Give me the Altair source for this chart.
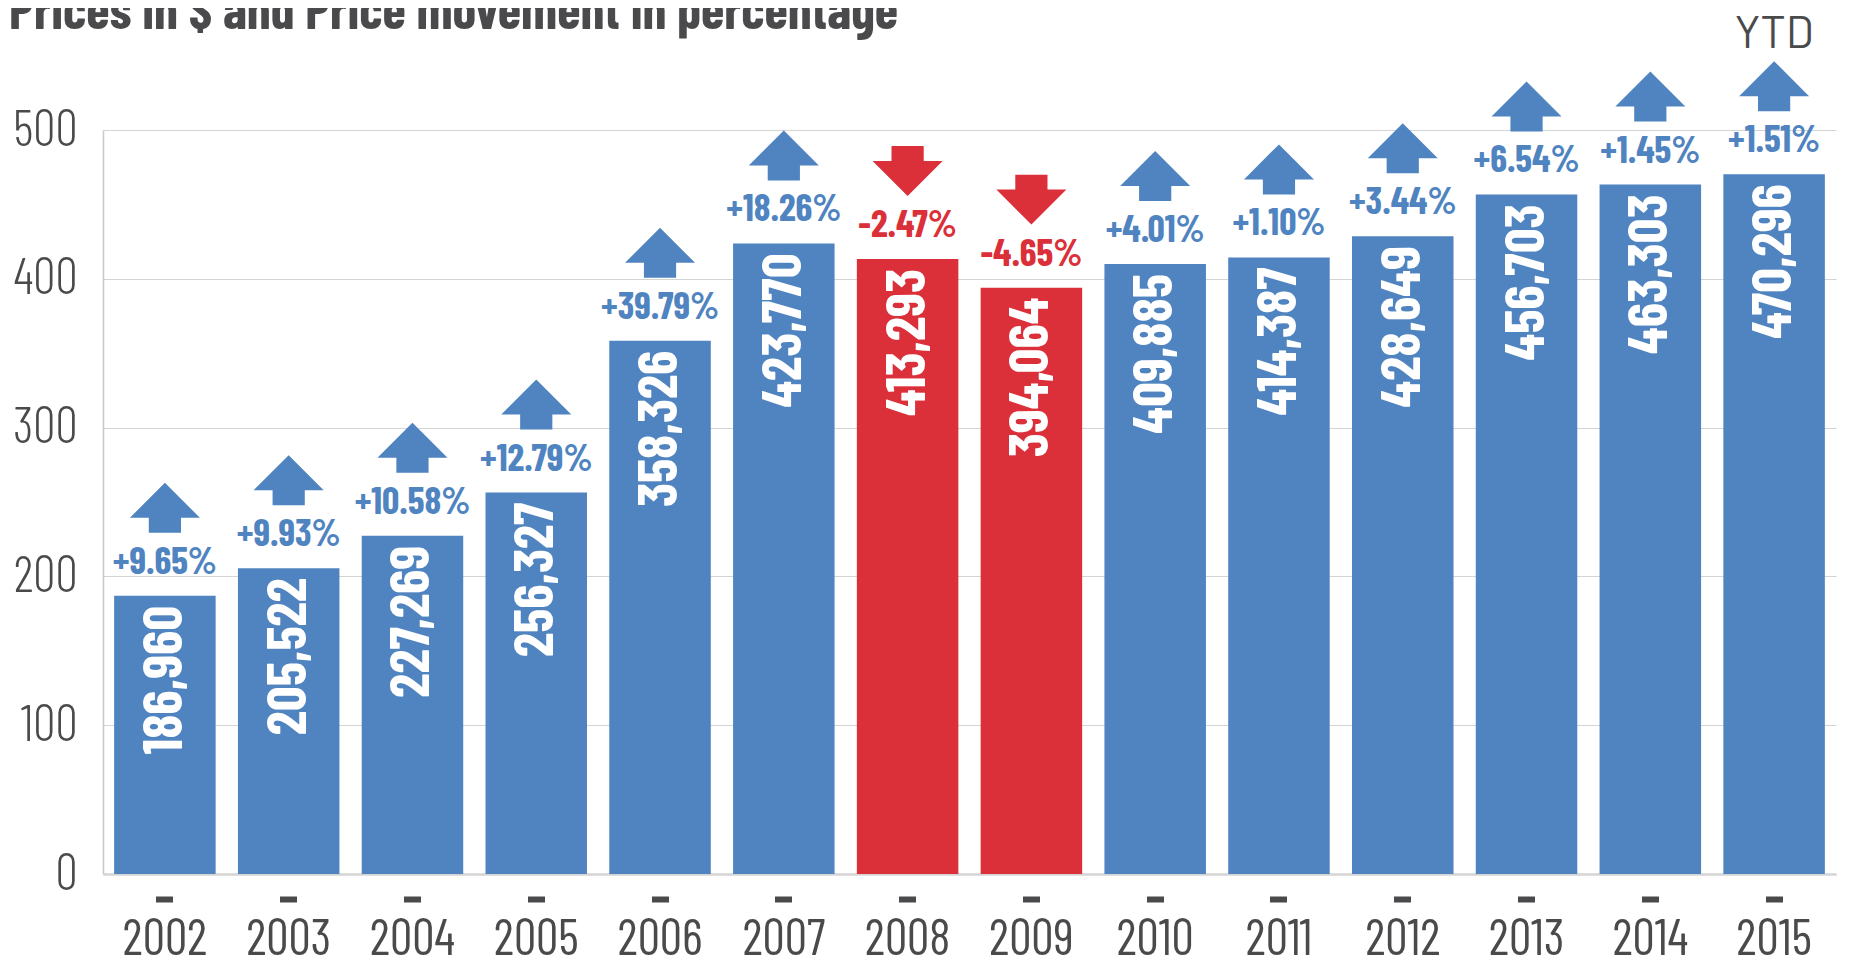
import altair as alt
import pandas as pd

years = [str(y) for y in range(2002, 2016)]
prices = [186960, 205522, 227269, 256327, 358326, 423770, 413293,
          394064, 409885, 414387, 428649, 456703, 463303, 470296]
changes = [9.65, 9.93, 10.58, 12.79, 39.79, 18.26, -2.47,
           -4.65, 4.01, 1.10, 3.44, 6.54, 1.45, 1.51]
y_ticks = [0, 100, 200, 300, 400, 500]
title_text = "Prices in $ and Price movement in percentage"
ytd_text = "YTD"

BLUE = "#4f84c1"
RED = "#db2f39"
GRAY = "#4a4a4c"
FONT = "Barlow Condensed, Fira Sans Extra Condensed, DejaVu Sans Condensed, sans-serif"
FONT_W = "Barlow, DejaVu Sans, sans-serif"

UP = "M-1,0.286 L0,-0.714 L1,0.286 L0.46,0.286 L0.46,0.714 L-0.46,0.714 L-0.46,0.286 Z"
DOWN = "M-1,-0.286 L0,0.714 L1,-0.286 L0.46,-0.286 L0.46,-0.714 L-0.46,-0.714 L-0.46,-0.286 Z"

df = pd.DataFrame({"year": years, "price": prices, "change": changes})
df["k"] = df["price"] / 1000
df["dir"] = ["up" if c > 0 else "down" for c in changes]
df["pct"] = [("+" if c > 0 else "") + f"{c:.2f}%" for c in changes]

x = alt.X(
    "year:N", sort=years,
    scale=alt.Scale(paddingInner=0.18, paddingOuter=0.09),
    axis=alt.Axis(title=None, labelAngle=0, domain=False, offset=22,
                  tickSize=6, tickWidth=17, tickColor=GRAY,
                  labelFont=FONT, labelFontSize=50, labelFontWeight=400,
                  labelColor=GRAY, labelPadding=12, grid=False),
)
y = alt.Y(
    "k:Q", scale=alt.Scale(domain=[0, 500], nice=False),
    axis=alt.Axis(title=None, values=y_ticks, ticks=False,
                  domainColor="#c8c8c8", domainWidth=1.5,
                  gridColor="#d4d4d4",
                  gridWidth={"condition": {"test": "datum.value === 0", "value": 2.5}, "value": 1},
                  labelFont=FONT, labelFontSize=50, labelFontWeight=300,
                  labelColor=GRAY, labelPadding=26),
)
color = alt.Color("dir:N", scale=alt.Scale(domain=["up", "down"], range=[BLUE, RED]), legend=None)

base = alt.Chart(df).encode(x=x, y=y)

bars = base.mark_bar().encode(color=color)

inner = base.mark_text(angle=270, align="right", baseline="middle", dx=-10,
                       font=FONT, fontSize=55, fontWeight="bold",
                       color="white").encode(text=alt.Text("price:Q", format=","))

pct = base.mark_text(baseline="alphabetic", dy=-22, font=FONT, fontSize=38,
                     fontWeight="bold").encode(text="pct:N", color=color)

arrows = base.mark_point(filled=True, size=4900, yOffset=-88, opacity=1,
                         strokeWidth=0).encode(
    shape=alt.Shape("dir:N", scale=alt.Scale(domain=["up", "down"], range=[UP, DOWN]), legend=None),
    color=color,
)

ytd = alt.Chart(pd.DataFrame({"year": ["2015"], "t": [ytd_text]})).mark_text(
    baseline="alphabetic", font=FONT_W, fontSize=45, color=GRAY
).encode(x=alt.X("year:N", sort=years), y=alt.value(-82), text="t:N")

title = alt.Chart(pd.DataFrame({"t": [title_text]})).mark_text(
    align="left", baseline="alphabetic", font=FONT, fontSize=53.5,
    fontWeight="bold", color=GRAY
).encode(x=alt.value(-94), y=alt.value(-101), text="t:N")

chart = alt.layer(bars, inner, pct, arrows, ytd, title).properties(
    width=1733, height=744,
    autosize=alt.AutoSizeParams(type="none"),
    padding={"left": 95, "top": 122, "right": 5, "bottom": 90},
).configure_view(stroke=None)

chart.save("out.html", embed_options={"renderer": "svg", "actions": False})
